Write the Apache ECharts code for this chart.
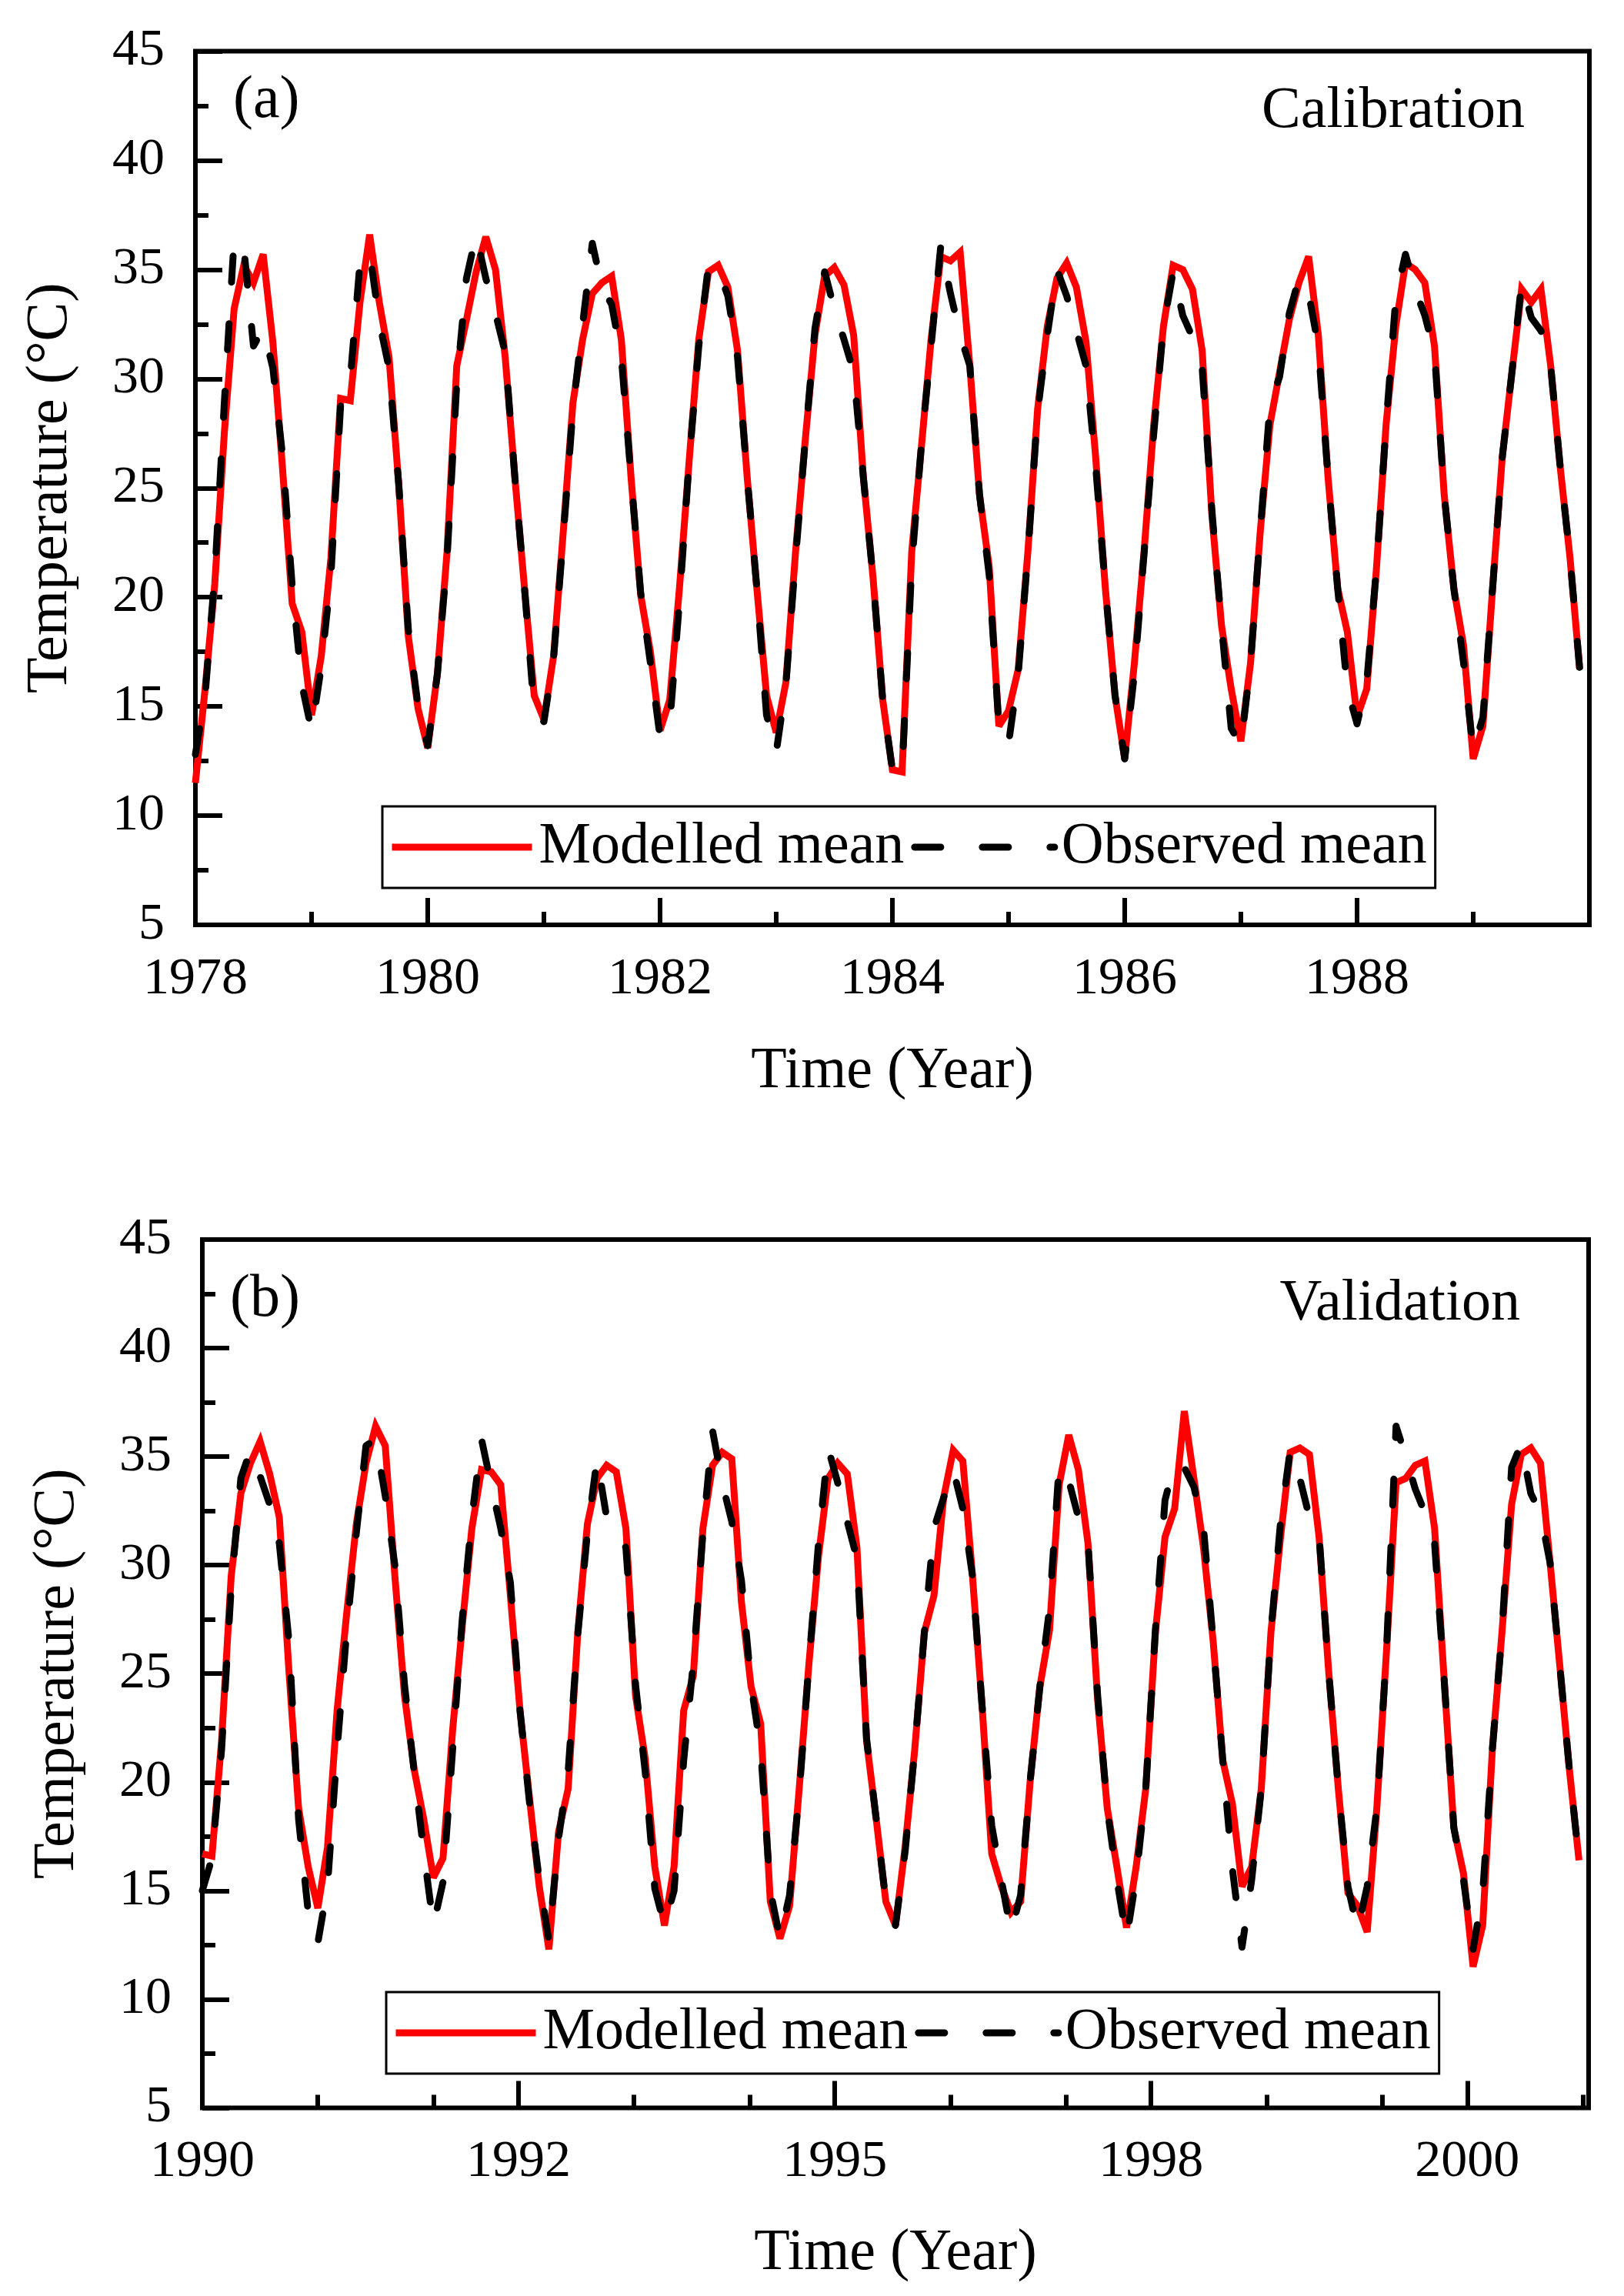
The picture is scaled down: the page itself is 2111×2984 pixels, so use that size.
<!DOCTYPE html>
<html>
<head>
<meta charset="utf-8">
<script src="https://cdn.jsdelivr.net/npm/echarts@6/dist/echarts.min.js"></script>
<style>
html,body{margin:0;padding:0;background:#fff;}
#chart{width:2111px;height:2984px;}
</style>
</head>
<body>
<div id="chart"></div>
<script>
// ---------- DATA (monthly means, index 0 = first month of each period) ----------
const modelledA = [
11.5,15.8,20.6,27.6,33.2,35.2,34.4,35.7,31.7,25.9,19.7,18.4,
14.6,17.3,21.8,29.1,29.0,33.5,36.6,33.5,31.0,25.2,18.2,14.9,
13.1,16.5,22.1,30.6,32.7,34.9,36.5,35.0,31.0,25.5,20.4,15.5,
14.4,17.3,23.0,28.9,31.8,33.9,34.4,34.7,31.8,25.5,20.1,17.5,
13.9,15.3,20.4,26.2,31.8,34.9,35.2,34.2,31.3,25.5,20.4,15.5,
13.8,16.1,22.1,27.2,32.0,34.7,35.1,34.3,32.0,25.5,20.9,15.3,
12.1,12.0,22.1,26.9,31.8,35.6,35.4,35.8,30.6,24.7,21.4,14.1,
14.8,16.7,22.1,28.6,32.4,34.6,35.3,34.2,31.7,26.4,20.4,15.5,
12.6,17.0,22.1,27.9,32.4,35.2,35.0,34.1,31.3,23.8,18.7,15.8,
13.4,17.0,23.0,27.9,30.3,32.7,34.4,35.6,32.0,25.5,20.4,18.4,
14.5,15.8,21.3,27.9,32.4,35.3,35.0,34.4,31.5,24.7,20.4,17.8,
12.6,14.1,20.4,26.4,30.3,34.1,33.5,34.1,30.6,25.9,21.8,16.7
];
const observedA = [
12.8,15.5,21.0,29.0,36.4,36.0,31.5,32.3,30.5,26.5,20.5,16.0,
13.9,16.8,21.0,28.8,30.0,35.3,35.8,32.6,30.5,25.2,18.5,15.0,
13.2,16.5,21.8,29.8,34.6,36.6,34.6,33.0,31.2,25.5,20.4,14.8,
14.3,17.2,22.8,28.6,32.5,36.2,34.2,33.4,31.0,25.5,20.2,17.0,
13.6,14.2,19.8,26.2,31.5,35.2,35.0,33.8,31.0,25.5,20.4,14.6,
12.9,16.0,21.8,27.2,32.3,34.9,33.2,31.8,30.3,25.5,20.9,15.3,
12.1,12.0,21.5,27.0,31.5,36.1,33.9,32.0,30.6,24.7,21.0,14.1,
13.3,16.5,22.0,28.5,32.0,35.0,33.8,32.2,30.6,26.0,20.4,15.5,
12.6,16.5,22.0,27.5,32.4,34.9,32.9,31.9,30.5,24.0,18.7,14.0,
13.2,17.0,23.0,28.8,30.1,33.0,34.6,33.9,31.5,25.5,20.4,15.8,
14.2,16.1,21.3,27.9,33.7,35.7,34.1,32.9,31.2,24.7,20.4,17.0,
13.0,14.5,20.4,26.4,30.3,34.4,32.8,32.2,30.6,25.9,21.8,16.7
];
const modelledB = [
16.7,16.6,21.9,29.5,33.3,34.7,35.7,34.2,32.2,25.1,18.8,16.1,
14.2,17.0,23.3,27.8,31.9,34.7,36.4,35.5,29.5,24.0,20.6,18.3,
15.6,16.5,22.4,27.2,31.7,34.4,34.3,33.7,28.6,23.3,19.2,15.2,
12.3,17.7,19.7,26.9,31.9,34.0,34.6,34.3,31.7,24.0,21.1,16.1,
13.4,16.1,23.3,24.9,31.7,34.6,35.2,34.9,28.3,24.4,22.7,14.5,
12.8,14.3,19.7,25.4,30.4,34.0,34.7,34.2,30.8,21.9,18.3,14.5,
13.4,17.0,21.5,26.9,28.6,33.1,35.3,34.8,29.5,23.5,16.7,15.2,
14.0,14.5,20.1,24.4,27.0,33.7,36.0,34.4,31.0,23.8,18.8,16.1,
13.3,16.1,19.7,26.9,31.3,32.6,37.1,34.0,30.8,26.5,21.0,19.0,
15.2,16.1,19.7,26.9,31.3,35.2,35.4,35.1,31.3,25.1,19.7,14.9,
14.3,13.1,18.8,26.0,33.8,34.0,34.6,34.8,31.7,24.7,17.9,15.8,
11.5,13.4,21.5,26.9,32.8,35.1,35.4,34.7,30.1,25.4,20.6,16.4
];
const observedB = [
15.0,16.5,21.5,29.0,34.0,35.3,34.1,32.8,31.0,26.5,18.3,14.0,
12.6,15.2,21.5,27.0,31.5,35.5,35.8,33.2,30.0,24.5,20.5,16.8,
13.4,15.4,21.5,27.5,32.2,35.8,33.7,31.7,29.2,23.3,19.0,15.5,
12.7,17.4,20.5,26.8,31.5,34.9,32.2,31.8,30.8,24.5,20.5,15.1,
13.4,15.0,21.0,25.5,31.5,36.2,33.8,32.0,29.3,24.5,21.5,15.0,
12.8,14.8,19.5,25.4,31.0,35.4,33.8,32.0,30.3,22.0,18.3,14.5,
13.4,16.8,21.5,26.9,31.7,33.1,34.4,32.6,29.5,23.5,18.0,15.5,
13.1,14.8,20.1,24.4,28.0,34.6,33.9,32.2,31.0,24.0,18.8,15.5,
12.8,15.6,19.7,27.0,33.0,34.7,34.5,33.6,31.7,26.5,21.0,16.0,
12.4,15.5,19.7,26.9,32.0,35.3,34.0,32.2,31.4,25.1,19.7,15.2,
13.2,15.2,18.8,26.0,36.4,35.0,33.5,32.4,31.0,24.7,17.9,15.5,
12.3,14.9,21.5,26.9,34.5,35.6,33.3,32.4,30.1,25.4,20.6,16.4
];
const seriesNames = ['Modelled mean', 'Observed mean'];
const xLabelsA = ['1978', '1980', '1982', '1984', '1986', '1988'];
const xLabelsB = ['1990', '1992', '1995', '1998', '2000'];
const yTicks = [5, 10, 15, 20, 25, 30, 35, 40, 45];
const panelTags = ['(a)', '(b)'];
const panelTitles = ['Calibration', 'Validation'];
const xTitle = 'Time (Year)';
const yTitle = 'Temperature (°C)';

// ---------- axis settings (month index units) ----------
const monthsSpan = 144;
const majorStepA = 24;
const majorStepB = 32.85;
const majorsB = [0, 1, 2, 3, 4].map(k => +(k * majorStepB).toFixed(2));
const minorsB = [];
majorsB.forEach(m => { [12, 24].forEach(d => { if (m + d <= monthsSpan) minorsB.push(+(m + d).toFixed(2)); }); });

const FONT = "'Liberation Serif','Times New Roman',serif";
const BLACK = '#000';
const RED = '#ff0000';

function pairs(arr) { return arr.map((v, i) => [i, v]); }

function yAxis(gridIndex) {
  return {
    gridIndex, type: 'value', min: yTicks[0], max: yTicks[yTicks.length - 1], interval: 5,
    axisLine: { show: false },
    axisTick: { show: true, inside: true, length: 35, lineStyle: { width: 6, color: BLACK } },
    minorTick: { show: true, splitNumber: 2, length: 17, lineStyle: { width: 6, color: BLACK } },
    splitLine: { show: false }, minorSplitLine: { show: false },
    axisLabel: { fontFamily: FONT, fontSize: 68, color: BLACK, margin: 40 },
    name: yTitle, nameLocation: 'middle', nameGap: 150,
    nameTextStyle: { fontFamily: FONT, fontSize: 76, color: BLACK }
  };
}

function legendAt(left, top) {
  return {
    data: seriesNames, left, top, orient: 'horizontal', selectedMode: false,
    itemWidth: 182, itemHeight: 20, itemGap: 9,
    padding: [15, 11, 15, 8],
    borderColor: BLACK, borderWidth: 3, backgroundColor: '#fff',
    itemStyle: { opacity: 0 },
    lineStyle: { width: 9 },
    textStyle: { fontFamily: FONT, fontSize: 76, color: BLACK, padding: [0, 0, 0, 4] }
  };
}

function lineSeries(name, data, xi, yi) {
  const observed = name === seriesNames[1];
  return {
    type: 'line', name, xAxisIndex: xi, yAxisIndex: yi, data: pairs(data),
    symbol: 'none', showSymbol: false, animation: false,
    itemStyle: { color: observed ? BLACK : RED },
    lineStyle: observed
      ? { color: BLACK, width: 9, type: [34, 54], cap: 'round', join: 'round' }
      : { color: RED, width: 9, join: 'miter', miterLimit: 3 }
  };
}

const option = {
  backgroundColor: '#fff',
  animation: false,
  grid: [
    { left: 254, top: 66.5, width: 1812, height: 1135.5, show: true, borderColor: BLACK, borderWidth: 6, backgroundColor: 'transparent' },
    { left: 263, top: 1611, width: 1802, height: 1128.4, show: true, borderColor: BLACK, borderWidth: 6, backgroundColor: 'transparent' }
  ],
  xAxis: [
    {
      gridIndex: 0, type: 'value', min: 0, max: monthsSpan, interval: majorStepA,
      axisLine: { show: false },
      axisTick: { show: true, inside: true, length: 35, lineStyle: { width: 6, color: BLACK } },
      minorTick: { show: true, splitNumber: 2, length: 17, lineStyle: { width: 6, color: BLACK } },
      splitLine: { show: false }, minorSplitLine: { show: false },
      axisLabel: {
        fontFamily: FONT, fontSize: 68, color: BLACK, margin: 37, showMaxLabel: false,
        formatter: v => xLabelsA[Math.round(v / majorStepA)] || ''
      },
      name: xTitle, nameLocation: 'middle', nameGap: 153,
      nameTextStyle: { fontFamily: FONT, fontSize: 76, color: BLACK }
    },
    {
      gridIndex: 1, type: 'value', min: 0, max: monthsSpan, position: 'bottom',
      axisLine: { show: false },
      axisTick: { show: true, inside: true, length: 35, customValues: majorsB, lineStyle: { width: 6, color: BLACK } },
      splitLine: { show: false },
      axisLabel: {
        fontFamily: FONT, fontSize: 68, color: BLACK, margin: 37, customValues: majorsB,
        formatter: v => xLabelsB[Math.round(v / majorStepB)] || ''
      },
      name: xTitle, nameLocation: 'middle', nameGap: 152,
      nameTextStyle: { fontFamily: FONT, fontSize: 76, color: BLACK }
    },
    {
      gridIndex: 1, type: 'value', min: 0, max: monthsSpan, position: 'bottom',
      axisLine: { show: false },
      axisTick: { show: true, inside: true, length: 17, customValues: minorsB, lineStyle: { width: 6, color: BLACK } },
      splitLine: { show: false },
      axisLabel: { show: false }
    }
  ],
  yAxis: [yAxis(0), yAxis(1)],
  legend: [legendAt(497, 1048), legendAt(502, 2589)],
  graphic: [
    { type: 'text', left: 303, top: 93, style: { text: panelTags[0], font: '78px ' + FONT, fill: BLACK } },
    { type: 'text', right: 129, top: 107, style: { text: panelTitles[0], font: '76px ' + FONT, fill: BLACK } },
    { type: 'text', left: 299, top: 1651, style: { text: panelTags[1], font: '78px ' + FONT, fill: BLACK } },
    { type: 'text', right: 135, top: 1657, style: { text: panelTitles[1], font: '76px ' + FONT, fill: BLACK } }
  ],
  series: [
    lineSeries(seriesNames[0], modelledA, 0, 0),
    lineSeries(seriesNames[1], observedA, 0, 0),
    lineSeries(seriesNames[0], modelledB, 1, 1),
    lineSeries(seriesNames[1], observedB, 1, 1)
  ]
};

const chart = echarts.init(document.getElementById('chart'), null, { renderer: 'canvas', width: 2111, height: 2984 });
chart.setOption(option);
</script>
</body>
</html>
